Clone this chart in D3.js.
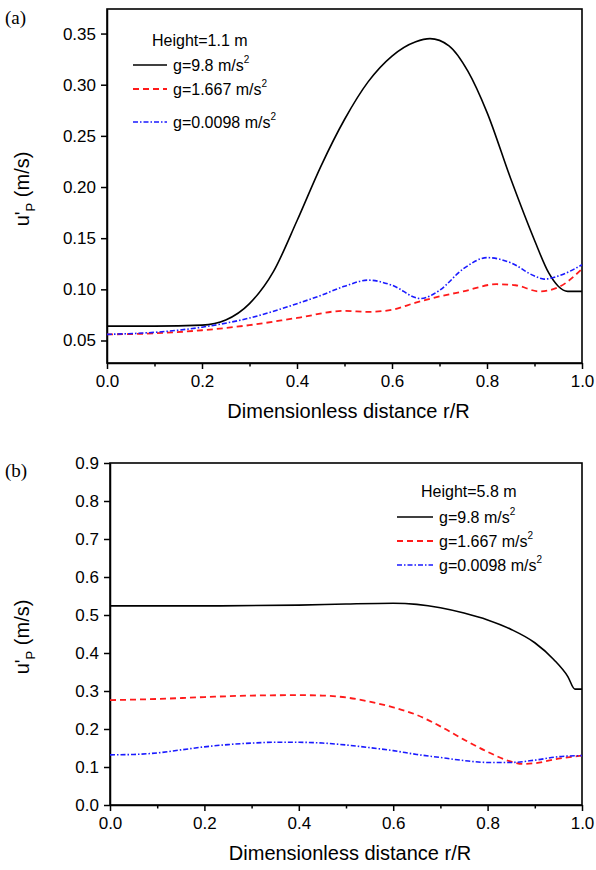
<!DOCTYPE html>
<meta charset="utf-8">
<style>
  body { margin: 0; background: #fff; }
  text { font-family: "Liberation Sans", Arial, sans-serif; fill: #000; }
  .axis path, .axis line { stroke: #000; stroke-width: 1.5; }
  .axis text { font-size: 17px; }
  .frame { fill: none; stroke: #000; stroke-width: 1.6; }
  .panel { font-family: "Liberation Serif", "Times New Roman", serif; font-size: 19px; }
</style>
<svg width="596" height="870"></svg>
<script src="https://d3js.org/d3.v7.min.js"></script>
<script>

// ---- panel (a): Height = 1.1 m ----
var aBlackX = [0, 0.1, 0.2, 0.25, 0.3, 0.35, 0.4, 0.45, 0.5, 0.55, 0.6, 0.65, 0.68, 0.72, 0.76, 0.8, 0.85, 0.9, 0.93, 0.95, 0.97, 1.0];
var aBlackY = [0.064, 0.064, 0.065, 0.070, 0.086, 0.117, 0.167, 0.220, 0.266, 0.303, 0.328, 0.342, 0.345, 0.338, 0.313, 0.273, 0.208, 0.148, 0.116, 0.103, 0.098, 0.098];

var aRedX = [0, 0.1, 0.2, 0.3, 0.4, 0.5, 0.55, 0.6, 0.65, 0.7, 0.75, 0.82, 0.86, 0.91, 0.95, 1.0];
var aRedY = [0.056, 0.057, 0.060, 0.065, 0.072, 0.079, 0.078, 0.080, 0.087, 0.093, 0.098, 0.105, 0.104, 0.098, 0.102, 0.120];

var aBlueX = [0, 0.1, 0.2, 0.3, 0.4, 0.45, 0.5, 0.55, 0.6, 0.66, 0.7, 0.75, 0.8, 0.85, 0.9, 0.92, 0.95, 1.0];
var aBlueY = [0.056, 0.058, 0.063, 0.072, 0.086, 0.094, 0.103, 0.109, 0.104, 0.091, 0.099, 0.120, 0.131, 0.126, 0.113, 0.110, 0.113, 0.124];

var aTicks = [0.05, 0.10, 0.15, 0.20, 0.25, 0.30, 0.35];

// ---- panel (b): Height = 5.8 m ----
var bBlackX = [0, 0.2, 0.4, 0.5, 0.6, 0.65, 0.7, 0.75, 0.8, 0.85, 0.9, 0.94, 0.97, 0.985, 1.0];
var bBlackY = [0.524, 0.524, 0.526, 0.529, 0.531, 0.528, 0.519, 0.505, 0.487, 0.462, 0.427, 0.383, 0.338, 0.305, 0.305];

var bRedX = [0, 0.1, 0.2, 0.3, 0.4, 0.45, 0.5, 0.55, 0.6, 0.65, 0.7, 0.75, 0.8, 0.85, 0.875, 0.9, 0.95, 1.0];
var bRedY = [0.276, 0.279, 0.284, 0.288, 0.289, 0.288, 0.283, 0.272, 0.257, 0.237, 0.207, 0.172, 0.140, 0.114, 0.108, 0.110, 0.122, 0.130];

var bBlueX = [0, 0.05, 0.1, 0.15, 0.2, 0.25, 0.3, 0.35, 0.4, 0.45, 0.5, 0.55, 0.6, 0.65, 0.7, 0.75, 0.8, 0.85, 0.9, 0.95, 1.0];
var bBlueY = [0.132, 0.133, 0.137, 0.145, 0.153, 0.159, 0.163, 0.165, 0.165, 0.163, 0.158, 0.151, 0.143, 0.133, 0.125, 0.117, 0.112, 0.112, 0.118, 0.127, 0.130];

var bTicks = [0.0, 0.1, 0.2, 0.3, 0.4, 0.5, 0.6, 0.7, 0.8, 0.9];

var xTicks = [0, 0.2, 0.4, 0.6, 0.8, 1.0];
var xMinor = [0.1, 0.3, 0.5, 0.7, 0.9];
var gLabels = ["9.8", "1.667", "0.0098"];

var styles = [
    {color: "#000", dash: null, width: 1.6},
    {color: "#ff1a1a", dash: "6,4", width: 1.8},
    {color: "#1a1aff", dash: "5,2,1.5,2", width: 1.6}
];

var svg = d3.select("svg");

function zip(xs, ys) {
    return xs.map(function(x, i) { return {x: x, y: ys[i]}; });
}

function drawPanel(p) {
    var x = d3.scaleLinear().domain([0, 1]).range([p.left, p.right]);
    var y = d3.scaleLinear().domain(p.yDomain).range([p.bottom, p.top]);
    var g = svg.append("g");

    // minor x ticks
    g.append("g")
        .attr("class", "axis")
        .attr("transform", "translate(0," + p.bottom + ")")
        .call(d3.axisBottom(x).tickValues(xMinor).tickSize(3.5).tickFormat(""))
        .select(".domain").remove();

    g.append("g")
        .attr("class", "axis")
        .attr("transform", "translate(0," + p.bottom + ")")
        .call(d3.axisBottom(x).tickValues(xTicks).tickSizeInner(6).tickSizeOuter(0).tickPadding(6).tickFormat(d3.format(".1f")));

    g.append("g")
        .attr("class", "axis")
        .attr("transform", "translate(" + p.left + ",0)")
        .call(d3.axisLeft(y).tickValues(p.yTicks).tickSizeInner(6).tickSizeOuter(0).tickPadding(5).tickFormat(d3.format(p.fmt)));

    g.append("rect")
        .attr("class", "frame")
        .attr("x", p.left).attr("y", p.top)
        .attr("width", p.right - p.left).attr("height", p.bottom - p.top);

    var line = d3.line()
        .x(function(d) { return x(d.x); })
        .y(function(d) { return y(d.y); })
        .curve(d3.curveMonotoneX);

    p.series.forEach(function(s, i) {
        g.append("path")
            .datum(s)
            .attr("fill", "none")
            .attr("stroke", styles[i].color)
            .attr("stroke-width", styles[i].width)
            .attr("stroke-dasharray", styles[i].dash)
            .attr("d", line);
    });

    // x label
    g.append("text")
        .attr("x", (p.left + p.right) / 2 + 4)
        .attr("y", p.bottom + 55)
        .attr("text-anchor", "middle")
        .style("font-size", "20px")
        .text("Dimensionless distance r/R");

    // y label
    var yl = g.append("text")
        .attr("transform", "translate(29," + ((p.top + p.bottom) / 2 + 3) + ") rotate(-90)")
        .attr("text-anchor", "middle")
        .style("font-size", "20px");
    yl.append("tspan").text("u'");
    yl.append("tspan").attr("dy", 6).style("font-size", "13px").text("P");
    yl.append("tspan").attr("dy", -6).text(" (m/s)");

    g.append("text")
        .attr("class", "panel")
        .attr("x", 5).attr("y", p.top + p.panelDy)
        .text(p.name);

    // legend
    var L = p.legend;
    g.append("text")
        .attr("x", L.titleX).attr("y", L.titleY)
        .style("font-size", "16px")
        .text(L.title);
    gLabels.forEach(function(lab, i) {
        var ry = L.rows[i];
        g.append("line")
            .attr("x1", L.x1).attr("x2", L.x2)
            .attr("y1", ry).attr("y2", ry)
            .attr("stroke", styles[i].color)
            .attr("stroke-width", styles[i].width)
            .attr("stroke-dasharray", styles[i].dash);
        var t = g.append("text")
            .attr("x", L.x2 + 6).attr("y", ry + 6)
            .style("font-size", "16px");
        t.append("tspan").text("g=" + lab + " m/s");
        t.append("tspan").attr("dy", -8).style("font-size", "10px").text("2");
    });
}

drawPanel({
    name: "(a)", panelDy: 15,
    left: 107, right: 582, top: 9, bottom: 363,
    yDomain: [0.028, 0.374], yTicks: aTicks, fmt: ".2f",
    series: [zip(aBlackX, aBlackY), zip(aRedX, aRedY), zip(aBlueX, aBlueY)],
    legend: {title: "Height=1.1 m", titleX: 152, titleY: 46, x1: 133, x2: 167, rows: [65, 89, 122]}
});

drawPanel({
    name: "(b)", panelDy: 14,
    left: 110, right: 582, top: 463, bottom: 805,
    yDomain: [0, 0.9], yTicks: bTicks, fmt: ".1f",
    series: [zip(bBlackX, bBlackY), zip(bRedX, bRedY), zip(bBlueX, bBlueY)],
    legend: {title: "Height=5.8 m", titleX: 421, titleY: 497, x1: 397, x2: 433, rows: [517, 541, 565]}
});

</script>
